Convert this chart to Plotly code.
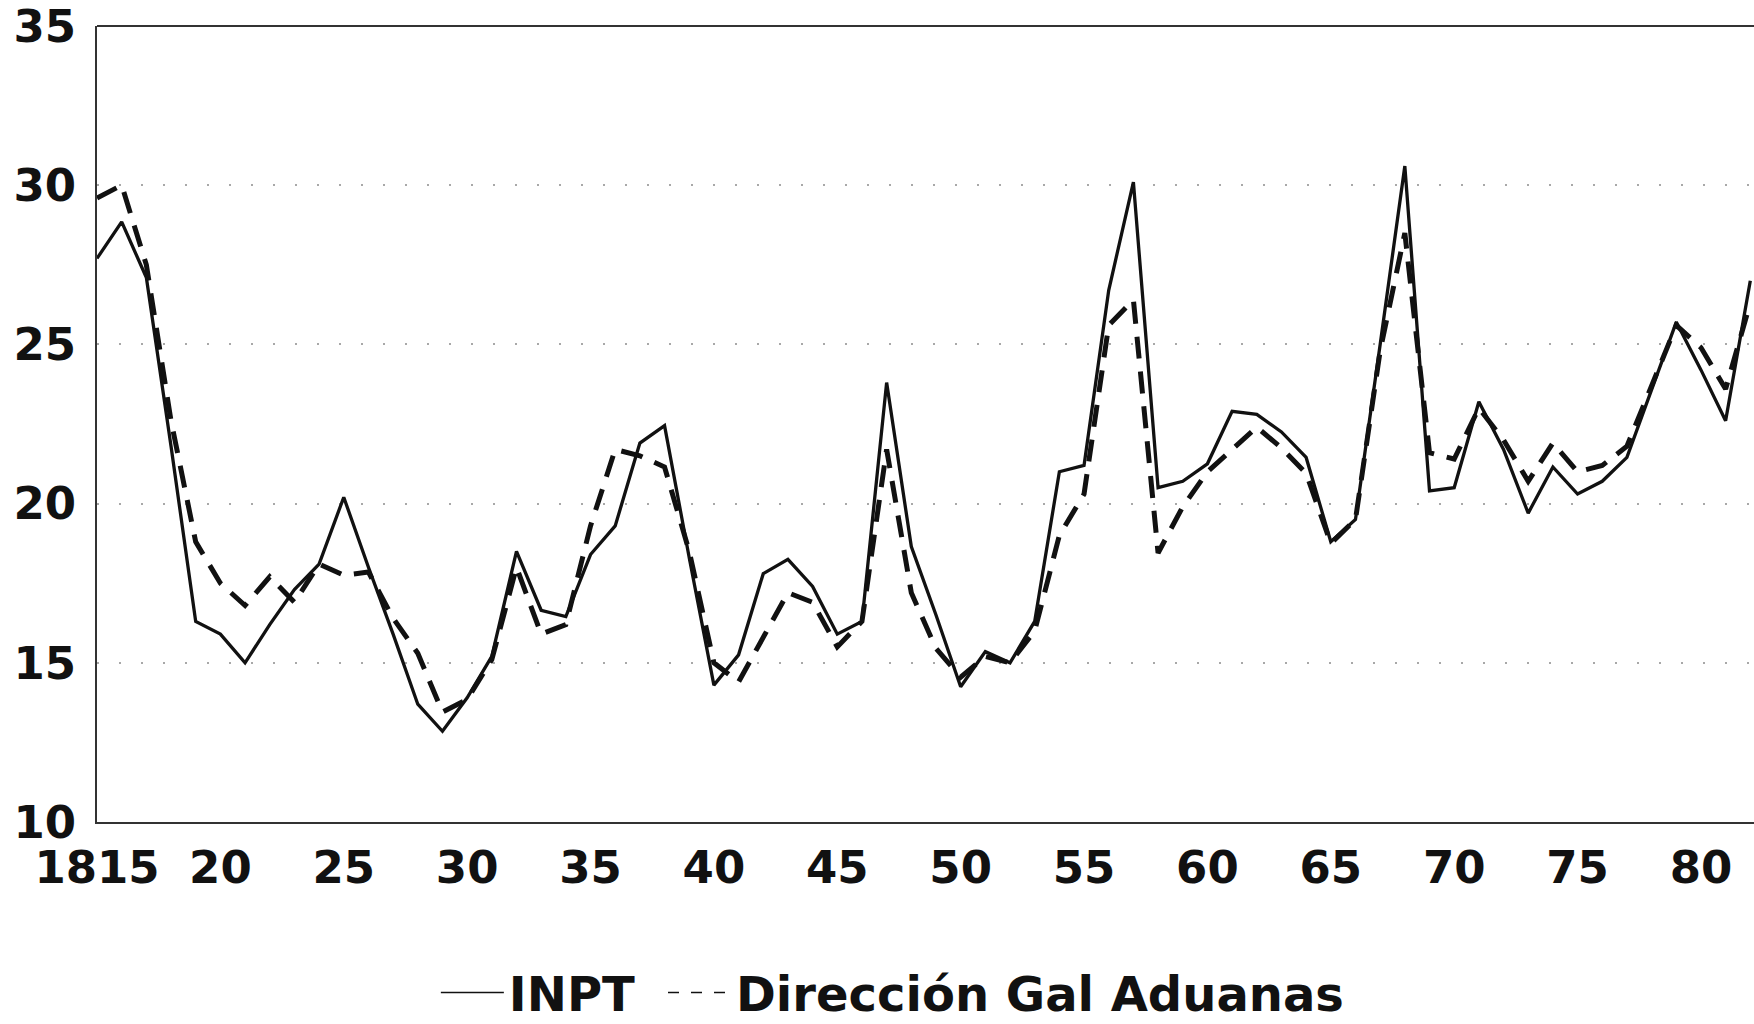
import plotly.graph_objects as go

# Annual series, 1815-1882
years = list(range(1815, 1883))

inpt = [
    27.7, 28.85, 27.1, 21.8, 16.3, 15.9, 15.0, 16.2, 17.3, 18.1,   # 1815-1824
    20.2, 18.0, 15.9, 13.7, 12.85, 13.9, 15.2, 18.5, 16.65, 16.45,  # 1825-1834
    18.4, 19.3, 21.9, 22.45, 18.3, 14.3, 15.25, 17.8, 18.25, 17.4,  # 1835-1844
    15.9, 16.3, 23.8, 18.65, 16.5, 14.25, 15.35, 15.0, 16.3, 21.0,  # 1845-1854
    21.2, 26.7, 30.1, 20.5, 20.7, 21.25, 22.9, 22.8, 22.25, 21.45,  # 1855-1864
    18.8, 19.5, 25.0, 30.6, 20.4, 20.5, 23.2, 21.7, 19.7, 21.15,    # 1865-1874
    20.3, 20.7, 21.45, 23.6, 25.7, 24.2, 22.6, 27.0,                # 1875-1882
]

aduanas = [
    29.6, 30.0, 27.5, 22.6, 18.8, 17.5, 16.8, 17.7, 16.9, 18.1,     # 1815-1824
    17.75, 17.85, 16.4, 15.3, 13.45, 13.85, 15.1, 18.0, 15.9, 16.2, # 1825-1834
    19.3, 21.7, 21.5, 21.15, 18.5, 15.0, 14.4, 15.8, 17.2, 16.9,    # 1835-1844
    15.5, 16.3, 21.7, 17.2, 15.45, 14.55, 15.2, 15.0, 16.0, 19.0,   # 1845-1854
    20.3, 25.6, 26.4, 18.45, 19.9, 21.0, 21.7, 22.4, 21.75, 20.95,  # 1855-1864
    18.75, 19.5, 24.8, 28.5, 21.6, 21.4, 23.0, 22.0, 20.7, 21.9,    # 1865-1874
    21.0, 21.2, 21.8, 23.7, 25.6, 24.9, 23.6, 26.3,                 # 1875-1882
]

x_tickvals = list(range(1815, 1881, 5))
x_ticktext = ["1815", "20", "25", "30", "35", "40", "45", "50",
              "55", "60", "65", "70", "75", "80"]
y_tickvals = [10, 15, 20, 25, 30, 35]

series_names = ["INPT", "Dirección Gal Aduanas"]

INK = "#111111"
TICK_FONT = dict(family="DejaVu Sans", size=45, color=INK, weight="bold")
LEGEND_FONT = dict(family="DejaVu Sans", size=48, color=INK, weight="bold")

fig = go.Figure()

# Plotted series (thick strokes), kept out of the legend
fig.add_trace(go.Scatter(
    x=years, y=inpt, mode="lines", showlegend=False,
    line=dict(color=INK, width=3.3),
))
fig.add_trace(go.Scatter(
    x=years, y=aduanas, mode="lines", showlegend=False,
    line=dict(color=INK, width=5, dash="22px,13px"),
))

# Legend keys with thin lines, one legend box per series
fig.add_trace(go.Scatter(
    x=[None], y=[None], mode="lines", name=series_names[0],
    line=dict(color=INK, width=1.5), legend="legend",
))
fig.add_trace(go.Scatter(
    x=[None], y=[None], mode="lines", name=series_names[1],
    line=dict(color=INK, width=1.5, dash="11px,12px"), legend="legend2",
))

legend_common = dict(
    orientation="h", yanchor="middle", y=-0.2145,
    font=LEGEND_FONT, itemwidth=63, bgcolor="rgba(0,0,0,0)",
)

fig.update_layout(
    width=1754, height=1024,
    margin=dict(l=97, r=0, t=26, b=202, autoexpand=False),
    paper_bgcolor="white", plot_bgcolor="white",
    legend=dict(x=0.2045, xanchor="left", **legend_common),
    legend2=dict(x=0.3416, xanchor="left", **legend_common),
    xaxis=dict(
        range=[1815, 1882.15], tickmode="array",
        tickvals=x_tickvals, ticktext=x_ticktext,
        showgrid=False, zeroline=False,
        showline=True, linecolor="#333333", linewidth=2,
        ticks="", ticklabelstandoff=5, tickfont=TICK_FONT,
        ticklabeloverflow="allow", automargin=False,
    ),
    yaxis=dict(
        range=[10, 35], tickmode="array", tickvals=y_tickvals,
        showgrid=True, gridcolor="#a8a8a8", gridwidth=2, griddash="2px,20px",
        zeroline=False,
        showline=True, linecolor="#333333", linewidth=2,
        ticks="", ticklabelstandoff=10, tickfont=TICK_FONT,
        ticklabeloverflow="allow", automargin=False,
    ),
    shapes=[dict(
        type="line", xref="paper", yref="paper", x0=0, x1=1, y0=1, y1=1,
        line=dict(color="#333333", width=2), layer="above",
    )],
)

fig.write_html("out.html")
